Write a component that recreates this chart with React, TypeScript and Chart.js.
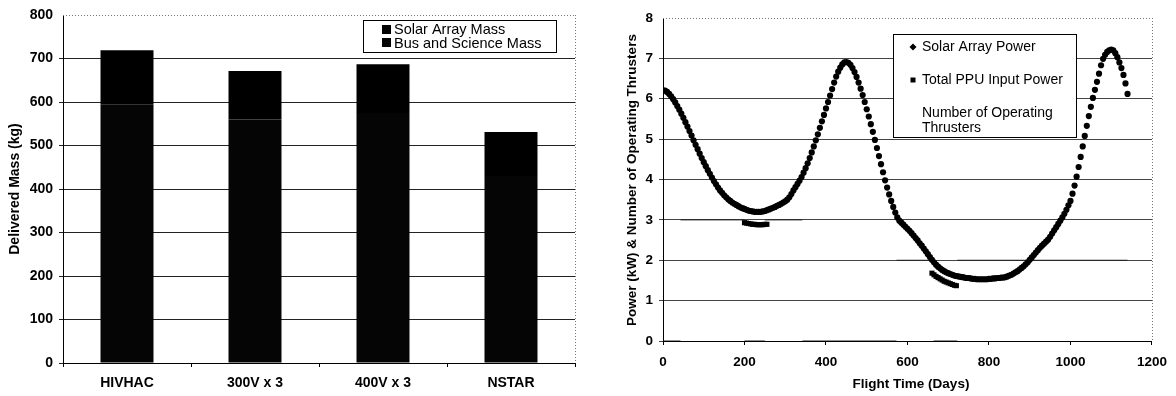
import { useEffect, useRef } from "react";
import { Chart, registerables } from "chart.js";

Chart.register(...registerables);

const FONT = "'Liberation Sans', Arial, Helvetica, sans-serif";

// ---- Delivered mass by propulsion option (kg) ----
const vehicles = ["HIVHAC", "300V x 3", "400V x 3", "NSTAR"];
const busAndScienceMassKg = [595, 560, 575, 430];
const solarArrayMassKg = [124, 111, 112, 101];
const massAxisMaxKg = 800;
const massAxisStepKg = 100;

// ---- Power profile over the mission: [flight day, kW] ----
const solarArrayPower: [number, number][] = [
  [0, 6.21], [5, 6.2], [10, 6.17], [15, 6.12], [20, 6.06], [25, 5.99], [30, 5.91], [35, 5.82], [40, 5.73], [45, 5.63],
  [50, 5.53], [55, 5.42], [60, 5.31], [65, 5.2], [70, 5.09], [75, 4.97], [80, 4.86], [85, 4.75], [90, 4.64], [95, 4.53],
  [100, 4.43], [105, 4.33], [110, 4.23], [115, 4.14], [120, 4.05], [125, 3.96], [130, 3.88], [135, 3.8], [140, 3.73], [145, 3.67],
  [150, 3.61], [155, 3.56], [160, 3.51], [165, 3.47], [170, 3.43], [175, 3.4], [180, 3.37], [185, 3.34], [190, 3.31], [195, 3.29],
  [200, 3.27], [205, 3.25], [210, 3.23], [215, 3.22], [220, 3.21], [225, 3.2], [230, 3.2], [235, 3.2], [240, 3.2], [245, 3.21],
  [250, 3.22], [255, 3.24], [260, 3.26], [265, 3.28], [270, 3.3], [275, 3.32], [280, 3.35], [285, 3.37], [290, 3.4], [295, 3.43],
  [300, 3.46], [305, 3.5], [310, 3.56], [315, 3.64], [320, 3.73], [325, 3.81], [330, 3.89], [335, 3.97], [340, 4.06], [345, 4.17],
  [350, 4.28], [355, 4.4], [360, 4.53], [365, 4.67], [370, 4.82], [375, 4.97], [380, 5.12], [385, 5.28], [390, 5.44], [395, 5.6],
  [400, 5.76], [405, 5.92], [410, 6.08], [415, 6.24], [420, 6.4], [425, 6.55], [430, 6.67], [435, 6.77], [440, 6.85], [445, 6.9],
  [450, 6.91], [455, 6.89], [460, 6.84], [465, 6.76], [470, 6.66], [475, 6.54], [480, 6.4], [485, 6.25], [490, 6.09], [495, 5.92],
  [500, 5.74], [505, 5.56], [510, 5.37], [515, 5.18], [520, 4.98], [525, 4.78], [530, 4.58], [535, 4.38], [540, 4.18], [545, 3.98],
  [550, 3.8], [555, 3.63], [560, 3.47], [565, 3.32], [570, 3.18], [575, 3.06], [580, 2.98], [585, 2.93], [590, 2.88], [595, 2.83],
  [600, 2.78], [605, 2.73], [610, 2.67], [615, 2.61], [620, 2.55], [625, 2.49], [630, 2.42], [635, 2.36], [640, 2.29], [645, 2.22],
  [650, 2.15], [655, 2.08], [660, 2.01], [665, 1.95], [670, 1.89], [675, 1.84], [680, 1.8], [685, 1.76], [690, 1.73], [695, 1.7],
  [700, 1.68], [705, 1.66], [710, 1.64], [715, 1.62], [720, 1.61], [725, 1.6], [730, 1.59], [735, 1.58], [740, 1.57], [745, 1.56],
  [750, 1.56], [755, 1.55], [760, 1.54], [765, 1.54], [770, 1.53], [775, 1.53], [780, 1.53], [785, 1.53], [790, 1.53], [795, 1.53],
  [800, 1.54], [805, 1.54], [810, 1.55], [815, 1.55], [820, 1.56], [825, 1.56], [830, 1.57], [835, 1.57], [840, 1.58], [845, 1.6],
  [850, 1.62], [855, 1.64], [860, 1.67], [865, 1.7], [870, 1.73], [875, 1.77], [880, 1.81], [885, 1.85], [890, 1.9], [895, 1.95],
  [900, 2.01], [905, 2.07], [910, 2.13], [915, 2.19], [920, 2.25], [925, 2.31], [930, 2.36], [935, 2.41], [940, 2.46], [945, 2.51],
  [950, 2.58], [955, 2.66], [960, 2.74], [965, 2.82], [970, 2.9], [975, 2.98], [980, 3.06], [985, 3.15], [990, 3.25], [995, 3.36],
  [1000, 3.47], [1005, 3.65], [1010, 3.85], [1015, 4.07], [1020, 4.31], [1025, 4.56], [1030, 4.82], [1035, 5.08], [1040, 5.33], [1045, 5.57],
  [1050, 5.8], [1055, 6.02], [1060, 6.22], [1065, 6.42], [1070, 6.62], [1075, 6.83], [1080, 6.99], [1085, 7.09], [1090, 7.16], [1095, 7.2],
  [1100, 7.22], [1105, 7.2], [1110, 7.13], [1115, 7.03], [1120, 6.9], [1125, 6.76], [1130, 6.59], [1135, 6.38], [1140, 6.12],
];

const ppuInputPower: [number, number][] = [
  [200, 2.93], [205, 2.92], [210, 2.91], [215, 2.9], [220, 2.89], [225, 2.89], [230, 2.88], [235, 2.88], [240, 2.88], [245, 2.88], [250, 2.89], [255, 2.89],
  [660, 1.68], [665, 1.64], [670, 1.6], [675, 1.57], [680, 1.54], [685, 1.51], [690, 1.48], [695, 1.46], [700, 1.44], [705, 1.42], [710, 1.4], [715, 1.38], [720, 1.37],
];

// thruster count as [day, count]; repeated days mark the switch-over instants
const operatingThrusters: [number, number][] = [
  [0, 0], [43, 0], [43, 3], [200, 3], [200, 0], [250, 0], [250, 3], [342, 3], [342, 0], [573, 0],
  [573, 2], [664, 2], [664, 0], [722, 0], [722, 2], [1140, 2],
];

const flightDayMax = 1200;
const flightDayStep = 200;
const powerAxisMax = 8;

function drawPlotFrame(chart: any) {
  const { ctx, chartArea } = chart;
  const { left, right, top, bottom } = chartArea;
  ctx.save();
  ctx.strokeStyle = "#777";
  ctx.lineWidth = 1;
  ctx.setLineDash([1, 2]);
  ctx.beginPath();
  ctx.moveTo(left, Math.round(top) + 0.5);
  ctx.lineTo(right, Math.round(top) + 0.5);
  ctx.moveTo(Math.round(right) + 0.5, top);
  ctx.lineTo(Math.round(right) + 0.5, bottom);
  ctx.stroke();
  ctx.restore();
}

function drawVerticalTitle(ctx: CanvasRenderingContext2D, text: string, x: number, y: number, size: number) {
  ctx.save();
  ctx.translate(x, y);
  ctx.rotate(-Math.PI / 2);
  ctx.font = `bold ${size}px ${FONT}`;
  ctx.fillStyle = "#000";
  ctx.textAlign = "center";
  ctx.textBaseline = "middle";
  ctx.fillText(text, 0, 0);
  ctx.restore();
}

const massDecor = {
  id: "massDecor",
  beforeDatasetsDraw(chart: any) {
    drawPlotFrame(chart);
  },
  afterDraw(chart: any) {
    const ctx: CanvasRenderingContext2D = chart.ctx;
    drawVerticalTitle(ctx, "Delivered Mass (kg)", 15, 189, 14);
    ctx.save();
    ctx.fillStyle = "#fff";
    ctx.fillRect(363.5, 20.5, 193, 32);
    ctx.strokeStyle = "#000";
    ctx.lineWidth = 1;
    ctx.strokeRect(363.5, 20.5, 193, 32);
    ctx.fillStyle = "#000";
    ctx.fillRect(382, 25, 9, 9);
    ctx.fillStyle = "#050505";
    ctx.fillRect(382, 38, 9, 9);
    ctx.fillStyle = "#000";
    ctx.font = `14.5px ${FONT}`;
    ctx.textAlign = "left";
    ctx.textBaseline = "middle";
    ctx.fillText("Solar Array Mass", 394, 30);
    ctx.fillText("Bus and Science Mass", 394, 43.5);
    ctx.restore();
  },
};

const powerDecor = {
  id: "powerDecor",
  beforeDatasetsDraw(chart: any) {
    drawPlotFrame(chart);
  },
  afterDraw(chart: any) {
    const ctx: CanvasRenderingContext2D = chart.ctx;
    drawVerticalTitle(ctx, "Power (kW) & Number of Operating Thrusters", 32, 180, 13.5);
    ctx.save();
    ctx.font = `bold 13.5px ${FONT}`;
    ctx.fillStyle = "#000";
    ctx.textAlign = "center";
    ctx.textBaseline = "middle";
    ctx.fillText("Flight Time (Days)", 311, 384);

    ctx.fillStyle = "#fff";
    ctx.fillRect(293.5, 34.5, 183, 103);
    ctx.strokeStyle = "#000";
    ctx.lineWidth = 1;
    ctx.strokeRect(293.5, 34.5, 183, 103);

    ctx.fillStyle = "#000";
    ctx.beginPath();
    ctx.moveTo(313, 43.5);
    ctx.lineTo(316.5, 47);
    ctx.lineTo(313, 50.5);
    ctx.lineTo(309.5, 47);
    ctx.closePath();
    ctx.fill();
    ctx.fillRect(310.5, 77.5, 5, 5);

    ctx.font = `14px ${FONT}`;
    ctx.textAlign = "left";
    ctx.fillText("Solar Array Power", 322, 47);
    ctx.fillText("Total PPU Input Power", 322, 80);
    ctx.fillText("Number of Operating", 322, 113);
    ctx.fillText("Thrusters", 322, 128);
    ctx.restore();
  },
};

function MassChart() {
  const ref = useRef<HTMLCanvasElement | null>(null);
  useEffect(() => {
    if (!ref.current) return;
    const tickFont = { family: FONT, size: 14, weight: "bold" as const };
    const chart = new Chart(ref.current, {
      type: "bar",
      data: {
        labels: vehicles,
        datasets: [
          {
            label: "Bus and Science Mass",
            data: busAndScienceMassKg,
            backgroundColor: "#050505",
            borderWidth: 0,
            stack: "mass",
            barPercentage: 0.414,
            categoryPercentage: 1,
          },
          {
            label: "Solar Array Mass",
            data: solarArrayMassKg,
            backgroundColor: "#000",
            borderWidth: 0,
            stack: "mass",
            barPercentage: 0.414,
            categoryPercentage: 1,
          },
        ],
      },
      options: {
        responsive: false,
        animation: false,
        devicePixelRatio: 1,
        layout: { padding: { left: 0, right: 25, top: 15, bottom: 0 } },
        plugins: { legend: { display: false }, tooltip: { enabled: false } },
        scales: {
          x: {
            stacked: true,
            grid: { drawOnChartArea: false, drawTicks: true, tickLength: 4, color: "#000", offset: true },
            border: { color: "#000", width: 1 },
            ticks: { color: "#000", font: tickFont, padding: 8, maxRotation: 0 },
            afterFit: (s: any) => {
              s.height = 33;
            },
          },
          y: {
            stacked: true,
            min: 0,
            max: massAxisMaxKg,
            ticks: { stepSize: massAxisStepKg, color: "#000", font: tickFont, padding: 6 },
            grid: {
              color: (c: any) => (c.tick && c.tick.value === massAxisMaxKg ? "rgba(0,0,0,0)" : "#222"),
              tickLength: 4,
            },
            border: { color: "#000", width: 1 },
            afterFit: (s: any) => {
              s.width = 63;
            },
          },
        },
      },
      plugins: [massDecor],
    });
    return () => chart.destroy();
  }, []);
  return (
    <canvas
      ref={ref}
      width={600}
      height={396}
      style={{ position: "absolute", left: 0, top: 0, width: 600, height: 396 }}
    />
  );
}

function PowerChart() {
  const ref = useRef<HTMLCanvasElement | null>(null);
  useEffect(() => {
    if (!ref.current) return;
    const tickFont = { family: FONT, size: 13.5, weight: "bold" as const };
    const toXY = (rows: [number, number][]) => rows.map(([x, y]) => ({ x, y }));
    const chart = new Chart(ref.current, {
      type: "line",
      data: {
        datasets: [
          {
            label: "Solar Array Power",
            data: toXY(solarArrayPower),
            showLine: false,
            pointStyle: "circle",
            pointRadius: 3.1,
            pointBackgroundColor: "#000",
            pointBorderWidth: 0,
          },
          {
            label: "Total PPU Input Power",
            data: toXY(ppuInputPower),
            showLine: false,
            pointStyle: "rect",
            pointRadius: 3.6,
            pointBackgroundColor: "#000",
            pointBorderWidth: 0,
          },
          {
            label: "Number of Operating Thrusters",
            data: toXY(operatingThrusters),
            showLine: true,
            pointRadius: 0,
            borderColor: "#222",
            borderWidth: 1,
            segment: {
              borderColor: (c: any) => (c.p0.parsed.x === c.p1.parsed.x ? "rgba(0,0,0,0)" : "#222"),
            },
          },
        ],
      },
      options: {
        responsive: false,
        animation: false,
        devicePixelRatio: 1,
        layout: { padding: { left: 0, right: 19, top: 18, bottom: 0 } },
        plugins: { legend: { display: false }, tooltip: { enabled: false } },
        scales: {
          x: {
            type: "linear",
            min: 0,
            max: flightDayMax,
            ticks: {
              stepSize: flightDayStep,
              color: "#000",
              font: tickFont,
              padding: 9,
              callback: (v: any) => String(v),
            },
            grid: { drawOnChartArea: false, drawTicks: true, tickLength: 4, color: "#000" },
            border: { color: "#000", width: 1 },
            afterFit: (s: any) => {
              s.height = 55;
            },
          },
          y: {
            min: 0,
            max: powerAxisMax,
            ticks: { stepSize: 1, color: "#000", font: tickFont, padding: 6 },
            grid: {
              color: (c: any) => (c.tick && c.tick.value === powerAxisMax ? "rgba(0,0,0,0)" : "#444"),
              tickLength: 4,
            },
            border: { color: "#000", width: 1 },
            afterFit: (s: any) => {
              s.width = 63;
            },
          },
        },
      },
      plugins: [powerDecor],
    });
    return () => chart.destroy();
  }, []);
  return (
    <canvas
      ref={ref}
      width={576}
      height={396}
      style={{ position: "absolute", left: 600, top: 0, width: 576, height: 396 }}
    />
  );
}

export default function App() {
  return (
    <div style={{ position: "fixed", left: 0, top: 0, width: 1176, height: 396, background: "#fff" }}>
      <MassChart />
      <PowerChart />
    </div>
  );
}
